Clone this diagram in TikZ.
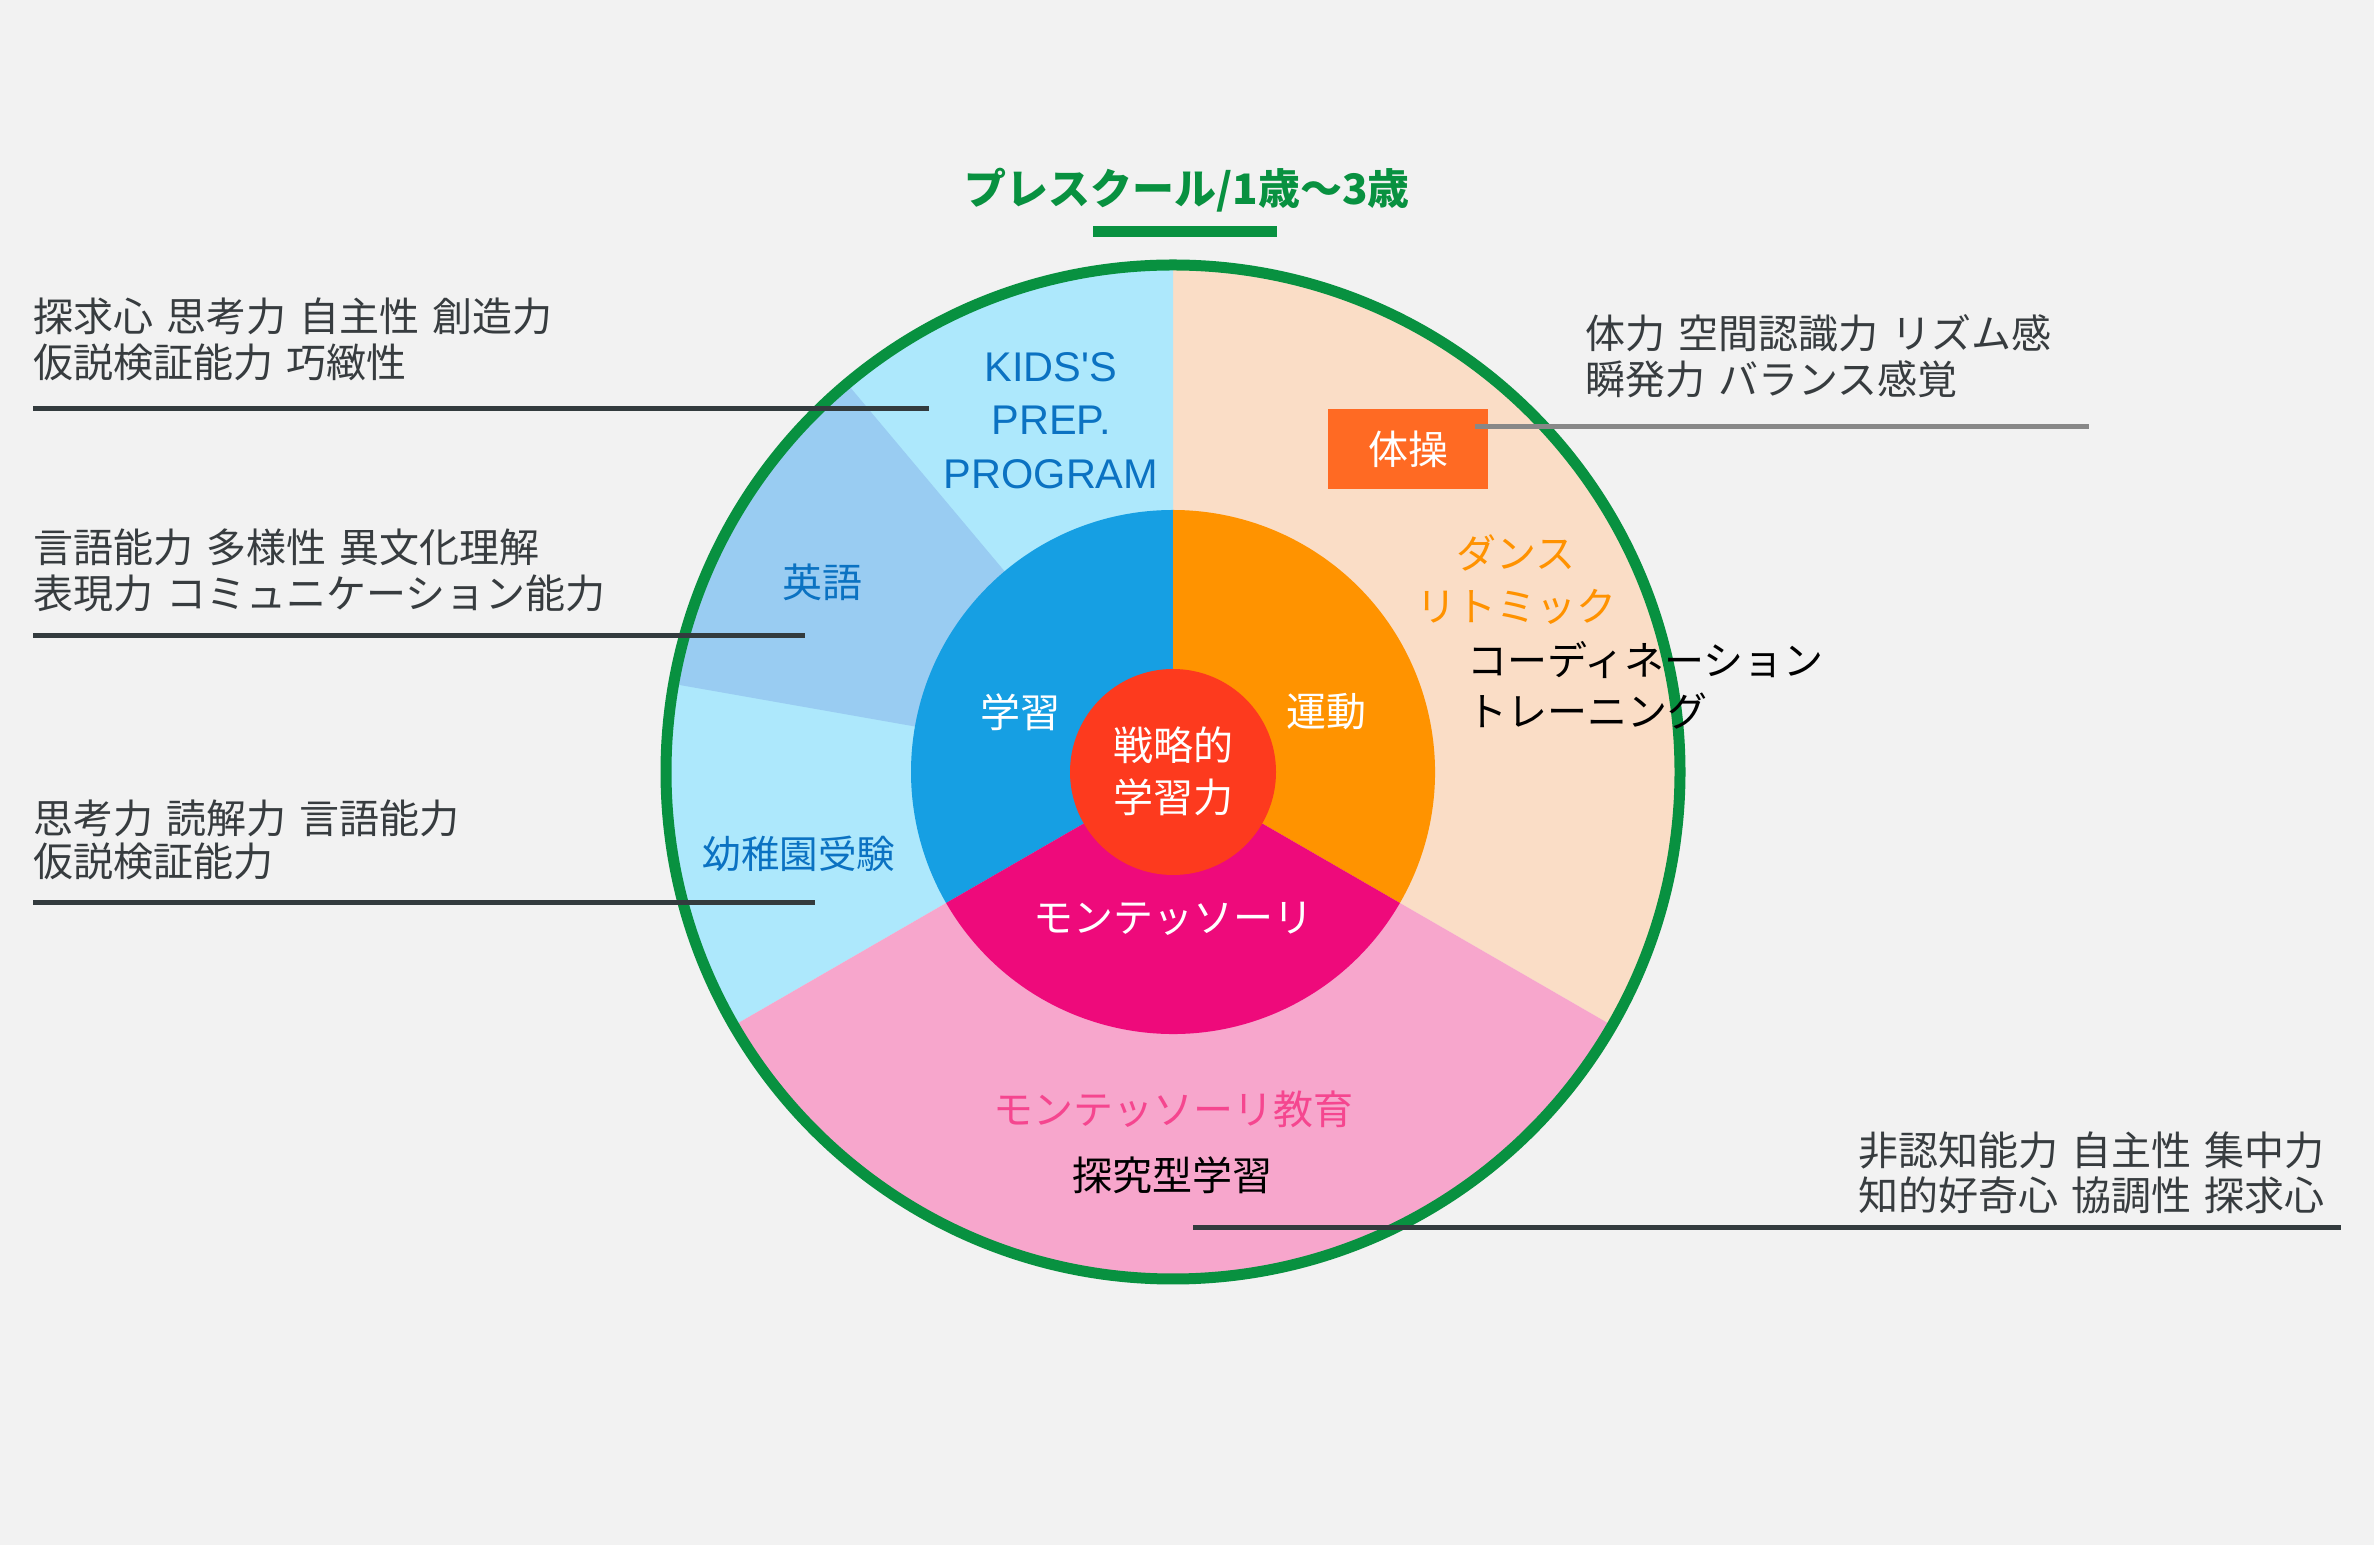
\documentclass[tikz,border=0pt]{standalone}
\usepackage{fontspec}
\setmainfont{Noto Sans CJK JP}
\newfontfamily\lat{Liberation Sans}
\newcommand\gp{\hspace{0.33em}}
\definecolor{bg}{RGB}{242,242,242}
\definecolor{ringgreen}{RGB}{8,145,64}
\definecolor{lblue}{RGB}{173,232,252}
\definecolor{eblue}{RGB}{153,204,242}
\definecolor{peach}{RGB}{250,221,198}
\definecolor{lpink}{RGB}{247,166,204}
\definecolor{mblue}{RGB}{22,159,227}
\definecolor{morange}{RGB}{255,147,0}
\definecolor{mmagenta}{RGB}{238,10,123}
\definecolor{cred}{RGB}{253,58,30}
\definecolor{boxorange}{RGB}{255,106,35}
\definecolor{darktext}{RGB}{55,60,63}
\definecolor{darkline}{RGB}{51,59,62}
\definecolor{grayline}{RGB}{136,136,136}
\definecolor{bluetext}{RGB}{11,114,194}
\definecolor{orangetext}{RGB}{255,146,0}
\definecolor{pinktext}{RGB}{245,70,143}
\tikzset{
  side/.style={font=\fontsize{40}{46}\selectfont, text=darktext, inner sep=0pt, anchor=west},
  inlabel/.style={font=\fontsize{40}{46}\selectfont, inner sep=0pt},
  leader/.style={draw=darkline, line width=5pt},
  kids/.style={font=\lat\fontsize{41.5}{50}\selectfont, text=bluetext, inner sep=0pt},
}
\begin{document}
\begin{tikzpicture}[x=1pt,y=1pt]
\useasboundingbox (0,0) rectangle (2374,1545);
\fill[bg] (0,0) rectangle (2374,1545);
\coordinate (C) at (1173,773);
% outer sectors
\fill[peach] (C) -- ++(-30:507) arc[start angle=-30, end angle=90, radius=507] -- cycle;
\fill[lblue] (C) -- ++(90:507) arc[start angle=90, end angle=210, radius=507] -- cycle;
\fill[eblue] (C) -- ++(130:507) arc[start angle=130, end angle=170, radius=507] -- cycle;
\fill[lpink] (C) -- ++(210:507) arc[start angle=210, end angle=330, radius=507] -- cycle;
% middle ring
\fill[mblue] (C) -- ++(90:262) arc[start angle=90, end angle=210, radius=262] -- cycle;
\fill[morange] (C) -- ++(-30:262) arc[start angle=-30, end angle=90, radius=262] -- cycle;
\fill[mmagenta] (C) -- ++(210:262) arc[start angle=210, end angle=330, radius=262] -- cycle;
% centre
\node[circle, fill=cred, minimum size=206pt, inner sep=0pt] (core) at (C) {};
% green ring
\draw[ringgreen, line width=11pt] (C) circle[radius=507];
% title
\node[font=\bfseries\fontsize{42}{50}\selectfont, text=ringgreen, inner sep=0pt] (title) at (1187,1355) {プレスクール/1歳〜3歳};
\coordinate (barL) at (1093,1313);
\coordinate (barR) at (1277,1313);
\draw[ringgreen, line width=11pt] (barL) -- (barR);
% inner labels
\node[inlabel, text=white] (c1) at (1173,800) {戦略的};
\node[inlabel, text=white] (c2) at (1173,748) {学習力};
\node[inlabel, text=white] (gaku) at (1020,833) {学習};
\node[inlabel, text=white] (undo) at (1326,833) {運動};
\node[inlabel, text=white] (monte) at (1173,626) {モンテッソーリ};
% outer labels
\node[kids] (k1) at (1051,1178) {KIDS'S};
\node[kids] (k2) at (1051,1125) {PREP.};
\node[kids] (k3) at (1051,1071) {PROGRAM};
\node[inlabel, text=bluetext] (eigo) at (822,963) {英語};
\node[inlabel, text=bluetext, font=\fontsize{38.5}{46}\selectfont] (yochi) at (799,691) {幼稚園受験};
\node[inlabel, text=orangetext] (dance) at (1516,992) {ダンス};
\node[inlabel, text=orangetext] (ritm) at (1516,938) {リトミック};
\node[inlabel, text=black, anchor=west] (coord1) at (1467,885) {コーディネーション};
\node[inlabel, text=black, anchor=west] (coord2) at (1467,834) {トレーニング};
\node[inlabel, text=pinktext] (montedu) at (1173,436) {モンテッソーリ教育};
\node[inlabel, text=black] (tankyu) at (1172,370) {探究型学習};
% taiso box
\node[fill=boxorange, minimum width=160pt, minimum height=80pt, inner sep=0pt, text=white, font=\fontsize{40}{46}\selectfont] (taiso) at (1408,1096) {体操};
% side texts
\node[side] (l1a) at (33,1229) {探求心\gp 思考力\gp 自主性\gp 創造力};
\node[side] (l1b) at (33,1183) {仮説検証能力\gp 巧緻性};
\coordinate (l1s) at (33,1136);
\coordinate (l1e) at (929,1136);
\draw[leader] (l1s) -- (l1e);
\node[side] (l2a) at (33,998) {言語能力\gp 多様性\gp 異文化理解};
\node[side] (l2b) at (33,952) {表現力\gp コミュニケーション能力};
\coordinate (l2s) at (33,909);
\coordinate (l2e) at (805,909);
\draw[leader] (l2s) -- (l2e);
\node[side] (l3a) at (33,727) {思考力\gp 読解力\gp 言語能力};
\node[side] (l3b) at (33,684) {仮説検証能力};
\coordinate (l3s) at (33,642);
\coordinate (l3e) at (815,642);
\draw[leader] (l3s) -- (l3e);
\node[side] (r1a) at (1585,1212) {体力\gp 空間認識力\gp リズム感};
\node[side] (r1b) at (1585,1166) {瞬発力\gp バランス感覚};
\coordinate (r1s) at (1475,1118);
\coordinate (r1e) at (2089,1118);
\draw[draw=grayline, line width=5pt] (r1s) -- (r1e);
\node[side] (r2a) at (1858,395) {非認知能力\gp 自主性\gp 集中力};
\node[side] (r2b) at (1858,350) {知的好奇心\gp 協調性\gp 探求心};
\coordinate (r2s) at (1193,317);
\coordinate (r2e) at (2341,317);
\draw[leader] (r2s) -- (r2e);
\end{tikzpicture}
\end{document}
